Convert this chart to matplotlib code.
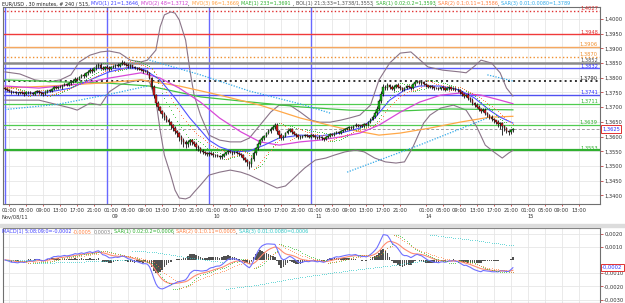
import numpy as np
import pandas as pd
import matplotlib
matplotlib.use('Agg')
import matplotlib.pyplot as plt
from matplotlib.patches import Rectangle
from matplotlib.transforms import blended_transform_factory

# ---------------- data ----------------
# EUR/USD 30 minute closes, Nov 08 00:00 .. Nov 14 21:30 (bars 192-195 = Sunday evening)
closes = [
    1.3762, 1.3758, 1.3755, 1.3750, 1.3752, 1.3749, 1.3747, 1.3751,
    1.3748, 1.3744, 1.3750, 1.3753, 1.3749, 1.3746, 1.3752, 1.3755,
    1.3750, 1.3747, 1.3745, 1.3752, 1.3758, 1.3755, 1.3762, 1.3767,
    1.3765, 1.3770, 1.3768, 1.3774, 1.3778, 1.3775, 1.3781, 1.3786,
    1.3790, 1.3797, 1.3794, 1.3802, 1.3808, 1.3805, 1.3815, 1.3820,
    1.3826, 1.3822, 1.3832, 1.3840, 1.3845, 1.3835, 1.3831, 1.3838,
    1.3834, 1.3830, 1.3836, 1.3839, 1.3843, 1.3840, 1.3846, 1.3852,
    1.3848, 1.3844, 1.3840, 1.3842, 1.3837, 1.3833, 1.3835, 1.3830,
    1.3826, 1.3822, 1.3824, 1.3818, 1.3800, 1.3770, 1.3740, 1.3715,
    1.3700, 1.3688, 1.3676, 1.3668, 1.3658, 1.3648, 1.3638, 1.3630,
    1.3618, 1.3612, 1.3600, 1.3590, 1.3582, 1.3575, 1.3580, 1.3587,
    1.3580, 1.3576, 1.3566, 1.3560, 1.3552, 1.3548, 1.3545, 1.3540,
    1.3545, 1.3542, 1.3536, 1.3538, 1.3534, 1.3530, 1.3535, 1.3540,
    1.3546, 1.3550, 1.3548, 1.3545, 1.3548, 1.3544, 1.3540, 1.3536,
    1.3528, 1.3520, 1.3512, 1.3506, 1.3525, 1.3545, 1.3560, 1.3575,
    1.3588, 1.3596, 1.3603, 1.3612, 1.3618, 1.3625, 1.3632, 1.3640,
    1.3618, 1.3605, 1.3595, 1.3602, 1.3612, 1.3620, 1.3625, 1.3615,
    1.3610, 1.3604, 1.3598, 1.3600, 1.3603, 1.3606, 1.3602, 1.3600,
    1.3605, 1.3602, 1.3598, 1.3596, 1.3600, 1.3594, 1.3592, 1.3598,
    1.3603, 1.3608, 1.3606, 1.3612, 1.3615, 1.3612, 1.3618, 1.3622,
    1.3625, 1.3628, 1.3632, 1.3630, 1.3636, 1.3640, 1.3635, 1.3638,
    1.3636, 1.3642, 1.3640, 1.3650, 1.3658, 1.3668, 1.3680, 1.3695,
    1.3720, 1.3745, 1.3770, 1.3765, 1.3775, 1.3768, 1.3762, 1.3770,
    1.3776, 1.3770, 1.3764, 1.3760, 1.3766, 1.3772, 1.3768, 1.3765,
    1.3778, 1.3785, 1.3788, 1.3782,
    1.3784, 1.3778, 1.3775, 1.3770, 1.3772, 1.3768, 1.3764, 1.3766,
    1.3762, 1.3767, 1.3765, 1.3760, 1.3764, 1.3768, 1.3763, 1.3766,
    1.3760, 1.3758, 1.3750, 1.3745, 1.3738, 1.3742, 1.3730, 1.3725,
    1.3715, 1.3708, 1.3702, 1.3694, 1.3688, 1.3692, 1.3680, 1.3674,
    1.3668, 1.3660, 1.3655, 1.3650, 1.3642, 1.3645, 1.3636, 1.3628,
    1.3620, 1.3616, 1.3622, 1.3625,
]
first_open = 1.3765

# wick lengths in pips above / below the candle body
wick_hi = [
    3, 2, 4, 2, 3, 2, 3, 2, 2, 4, 3, 2, 3, 4, 2, 3, 3, 2, 4, 3, 2, 4, 3, 5,
    4, 3, 5, 2, 4, 3, 6, 4, 5, 4, 6, 3, 5, 7, 4, 5, 6, 8, 5, 7, 4, 6, 5, 3,
    4, 5, 3, 6, 4, 8, 5, 7, 4, 3, 5, 4, 3, 4, 2, 3, 3, 4, 2, 3, 2, 3, 4, 5,
    6, 5, 4, 6, 5, 4, 5, 6, 5, 6, 4, 5, 6, 8, 7, 5, 4, 5, 6, 4, 3, 5, 4, 3,
    4, 3, 5, 4, 3, 4, 5, 4, 3, 4, 5, 3, 4, 3, 4, 5, 4, 3, 5, 4, 6, 7, 5, 6,
    5, 6, 4, 5, 7, 6, 8, 6, 5, 4, 6, 5, 4, 6, 5, 3, 4, 3, 4, 5, 3, 4, 3, 4,
    3, 4, 3, 2, 4, 3, 2, 4, 3, 4, 3, 4, 3, 4, 3, 5, 4, 3, 5, 4, 3, 5, 4, 3,
    4, 3, 5, 4, 5, 6, 7, 8, 9, 10, 8, 7, 6, 5, 6, 5, 4, 5, 4, 5, 4, 3, 4, 3,
    4, 3, 5, 3, 3, 4, 3, 2, 3, 4, 3, 2, 3, 2, 4, 3, 2, 3, 4, 2, 3, 4, 3, 5,
    4, 3, 5, 4, 5, 4, 6, 5, 4, 5, 4, 5, 4, 5, 4, 3, 5, 4, 3, 4, 3, 4, 3, 2,
]
wick_lo = [
    3, 4, 3, 5, 3, 4, 6, 3, 4, 5, 3, 4, 5, 3, 4, 3, 5, 4, 6, 3, 4, 3, 4, 3,
    4, 3, 4, 5, 3, 4, 3, 4, 3, 4, 5, 3, 4, 5, 3, 4, 4, 5, 3, 4, 6, 5, 4, 5,
    4, 6, 5, 4, 5, 4, 3, 4, 5, 4, 6, 5, 4, 3, 5, 4, 4, 5, 3, 4, 5, 8, 10, 12,
    10, 9, 12, 10, 8, 9, 11, 10, 9, 12, 14, 15, 16, 13, 10, 8, 9, 8, 10, 9, 7, 8, 6, 7,
    6, 5, 7, 6, 5, 6, 5, 4, 4, 5, 4, 6, 5, 4, 5, 6, 7, 8, 12, 15, 9, 7, 6, 5,
    5, 4, 6, 5, 4, 5, 4, 6, 8, 9, 7, 6, 5, 4, 5, 6, 5, 4, 6, 5, 4, 5, 4, 5,
    4, 5, 6, 5, 4, 6, 7, 5, 4, 5, 4, 3, 4, 3, 4, 3, 4, 3, 4, 5, 4, 3, 4, 3,
    4, 3, 4, 3, 4, 3, 4, 5, 6, 5, 7, 6, 5, 6, 5, 6, 5, 4, 6, 5, 4, 5, 4, 5,
    4, 5, 3, 4, 5, 4, 5, 6, 4, 5, 4, 3, 4, 3, 5, 4, 3, 4, 5, 4, 5, 6, 5, 7,
    6, 5, 6, 7, 8, 7, 6, 8, 7, 6, 8, 9, 8, 7, 9, 8, 10, 15, 30, 9, 8, 10, 6, 5,
]

# time axis
day_starts = [0, 48, 96, 144, 196, 244]
day_names = ['Nov/08/11', '09', '10', '11', '14', '15']
hour_names = ['01:00', '05:00', '09:00', '13:00', '17:00', '21:00']
hour_offsets = [2, 10, 18, 26, 34, 42]
day_lines = [0, 48, 96, 144]

# indicator curves (bar index, price)
mvo1_x = [0, 12, 21, 31, 40, 49, 59, 66, 73, 80, 87, 92, 96, 101, 108, 115, 122, 129, 139, 148,
          158, 167, 174, 181, 188, 195, 205, 214, 221, 228, 233, 239]
mvo1_y = [1.3752, 1.3748, 1.3752, 1.3765, 1.3793, 1.3820, 1.3837, 1.3826, 1.3793, 1.3731, 1.3663,
          1.3622, 1.3588, 1.3565, 1.3548, 1.3551, 1.3571, 1.3595, 1.3605, 1.3602, 1.3612, 1.3629,
          1.3663, 1.3724, 1.3758, 1.3772, 1.3772, 1.3758, 1.3731, 1.3690, 1.3666, 1.3646]
mvo2_x = [0, 16, 35, 49, 64, 73, 82, 92, 101, 111, 120, 129, 139, 148, 158, 167, 176, 186, 195,
          205, 214, 224, 233, 239]
mvo2_y = [1.3772, 1.3765, 1.3779, 1.3799, 1.3817, 1.3799, 1.3765, 1.3717, 1.3663, 1.3616, 1.3582,
          1.3571, 1.3582, 1.3588, 1.3599, 1.3612, 1.3639, 1.3683, 1.3717, 1.3741, 1.3748, 1.3741,
          1.3724, 1.3712]
mvo3_x = [0, 21, 45, 64, 82, 101, 120, 139, 158, 176, 186, 200, 214, 228, 239]
mvo3_y = [1.3765, 1.3772, 1.3782, 1.3793, 1.3772, 1.3741, 1.3707, 1.3663, 1.3629, 1.3605, 1.3612,
          1.3629, 1.3649, 1.3666, 1.3669]
mae_x = [0, 26, 48, 68, 92, 115, 139, 162, 186, 209, 239]
mae_y = [1.3793, 1.3786, 1.3782, 1.3772, 1.3735, 1.3718, 1.3701, 1.3690, 1.3687, 1.3694, 1.3691]

bb_up_x = [0, 7, 14, 21, 26, 31, 35, 40, 45, 49, 54, 59, 64, 67, 71, 73, 75, 78, 80, 82, 85, 87,
           89, 92, 96, 101, 106, 111, 115, 120, 125, 129, 134, 139, 144, 148, 153, 158, 162, 167,
           172, 176, 181, 186, 191, 199, 206, 214, 217, 221, 224, 229, 233, 236, 239]
bb_up_y = [1.3820, 1.3813, 1.3793, 1.3786, 1.3793, 1.3810, 1.3854, 1.3877, 1.3888, 1.3891, 1.3884,
           1.3860, 1.3854, 1.3860, 1.3894, 1.3973, 1.4014, 1.4024, 1.4020, 1.3997, 1.3928, 1.3826,
           1.3741, 1.3673, 1.3605, 1.3588, 1.3582, 1.3582, 1.3595, 1.3639, 1.3683, 1.3707, 1.3707,
           1.3683, 1.3656, 1.3649, 1.3649, 1.3656, 1.3663, 1.3673, 1.3707, 1.3793, 1.3850, 1.3884,
           1.3888, 1.3837, 1.3826, 1.3820, 1.3817, 1.3840, 1.3860, 1.3850, 1.3817, 1.3765, 1.3738]
bb_lo_x = [0, 16, 31, 34, 40, 45, 49, 54, 59, 64, 68, 71, 73, 75, 78, 80, 82, 85, 87, 89, 92, 96,
           101, 106, 111, 115, 120, 125, 128, 132, 136, 141, 146, 151, 155, 160, 165, 169, 174, 179,
           184, 188, 192, 197, 200, 205, 211, 217, 222, 226, 230, 234, 237, 239]
bb_lo_y = [1.3724, 1.3724, 1.3697, 1.3690, 1.3714, 1.3707, 1.3752, 1.3776, 1.3786, 1.3793, 1.3786,
           1.3724, 1.3622, 1.3537, 1.3469, 1.3418, 1.3391, 1.3388, 1.3394, 1.3411, 1.3435, 1.3469,
           1.3479, 1.3486, 1.3479, 1.3469, 1.3452, 1.3435, 1.3425, 1.3432, 1.3459, 1.3493, 1.3520,
           1.3527, 1.3537, 1.3548, 1.3554, 1.3548, 1.3527, 1.3514, 1.3510, 1.3514, 1.3565, 1.3646,
           1.3673, 1.3697, 1.3707, 1.3690, 1.3633, 1.3571, 1.3548, 1.3527, 1.3544, 1.3553]

# slow SAR(3) legs
sar3_legs_x = [[0, 25, 50, 67], [68, 92, 115, 139, 153], [161, 195, 227], [227, 239]]
sar3_legs_y = [[1.3692, 1.3710, 1.3745, 1.3772], [1.3860, 1.3810, 1.3755, 1.3711, 1.3680],
               [1.3479, 1.3571, 1.3663], [1.3810, 1.3789]]

# horizontal price levels
levels = [1.4027, 1.3948, 1.3906, 1.3870, 1.3852, 1.3832, 1.3790, 1.3741, 1.3711, 1.3639, 1.3553]
level_colors = ['#e03030', '#f03a3a', '#f5a860', '#f09030', '#8a8a8a', '#5a5aff', '#303030',
                '#5050f0', '#50cc50', '#50cc50', '#30b030']
level_styles = [':', '-', '-', ':', '-', '-', ':', '-', '-', '-', '-']
level_widths = [1.0, 1.0, 1.0, 1.0, 1.8, 1.0, 1.4, 1.0, 0.9, 0.9, 1.6]
level_label_colors = ['#e03030', '#e03030', '#f09030', '#f09030', '#505050', '#3030ff', '#202020',
                      '#3030ff', '#30b030', '#30b030', '#30b030']
last_price = 1.3625


def psar(high, low, step, amax):
    n = len(high)
    out = np.zeros(n)
    bull = True
    af = step
    ep = high[0]
    out[0] = low[0]
    for i in range(1, n):
        s = out[i - 1] + af * (ep - out[i - 1])
        if bull:
            s = min(s, low[i - 1], low[max(i - 2, 0)])
            if low[i] < s:
                bull, s, ep, af = False, ep, low[i], step
            elif high[i] > ep:
                ep, af = high[i], min(af + step, amax)
        else:
            s = max(s, high[i - 1], high[max(i - 2, 0)])
            if high[i] > s:
                bull, s, ep, af = True, ep, high[i], step
            elif low[i] < ep:
                ep, af = low[i], min(af + step, amax)
        out[i] = s
    return out


c = np.array(closes)
o = np.concatenate([[first_open], c[:-1]])
hi = np.maximum(o, c) + np.array(wick_hi) * 0.0001
lo = np.minimum(o, c) - np.array(wick_lo) * 0.0001
idx = np.arange(len(c))

s = pd.Series(c)
macd = (s.ewm(span=5, adjust=False).mean() - s.ewm(span=8, adjust=False).mean()).values
sig = pd.Series(macd).ewm(span=9, adjust=False).mean().values
hist = macd - sig

W, H = 625, 303
FS = 3.7
fig = plt.figure(figsize=(W / 100, H / 100), dpi=100)
fig.patch.set_facecolor('white')
ax = fig.add_axes([3 / W, 1 - 204 / H, 597 / W, 197 / H])
ax2 = fig.add_axes([3 / W, 0, 597 / W, 75 / H])

xticks, xlabels = [], []
for d in day_starts:
    for off, name in zip(hour_offsets, hour_names):
        if d + off <= 272:
            xticks.append(d + off)
            xlabels.append(name)

for a in (ax, ax2):
    a.set_xlim(-0.94, 280)
    a.set_facecolor('white')
    a.set_xticks(xticks)
    a.grid(True, color='#e6e6e6', lw=0.6, zorder=0)
    a.set_axisbelow(True)
    for sp in a.spines.values():
        sp.set_color('#707070')
        sp.set_linewidth(0.8)
    a.yaxis.tick_right()
    a.tick_params(axis='y', length=2, width=0.6, color='#c04040', pad=1, labelsize=FS,
                  labelcolor='#303030')

ax.set_xticklabels(xlabels)
ax.tick_params(axis='x', length=1.5, width=0.6, color='#d04040', pad=1.2, labelsize=FS,
               labelcolor='#303030')
ax2.tick_params(axis='x', length=0, labelbottom=False)

# main panel
ax.set_ylim(1.33707, 1.40408)
ax.set_yticks(np.arange(1.3400, 1.40001, 0.005))
ax.yaxis.set_major_formatter(plt.FuncFormatter(lambda v, p: f'{v:.4f}'.replace('.', ',')))

for d in day_lines:
    ax.axvline(d, color='#6868ff', lw=1.0, zorder=1)

for lv, col, ls, lw, lc in zip(levels, level_colors, level_styles, level_widths, level_label_colors):
    ax.axhline(lv, color=col, ls=ls, lw=lw, zorder=1)
    ax.text(279, lv, f'{lv:.4f}'.replace('.', ','), color=lc, fontsize=FS, ha='right', va='bottom',
            zorder=6)
ax.axhline(last_price, color='#a0a0a0', ls=(0, (3, 2)), lw=0.7, zorder=1)

ax.plot(bb_up_x, bb_up_y, color='#8a7488', lw=0.8, zorder=3)
ax.plot(bb_lo_x, bb_lo_y, color='#8a7488', lw=0.8, zorder=3)
ax.plot(mae_x, mae_y, color='#44c444', lw=0.9, zorder=3)
ax.plot(mvo3_x, mvo3_y, color='#ffa848', lw=0.9, zorder=3)
ax.plot(mvo2_x, mvo2_y, color='#d848d8', lw=0.9, zorder=3)
ax.plot(mvo1_x, mvo1_y, color='#5050ff', lw=0.8, zorder=3)
for lx, ly in zip(sar3_legs_x, sar3_legs_y):
    ax.plot(lx, ly, color='#30a8e8', lw=0.9, ls=(0, (1, 1.2)), zorder=3)

sar1 = psar(hi, lo, 0.02, 0.2)
sar2 = psar(hi, lo, 0.1, 0.11)
ax.scatter(idx[1:], sar1[1:], s=0.4, color='#30c030', lw=0, zorder=4)
ax.scatter(idx[1:], sar2[1:], s=0.4, color='#ff7040', lw=0, zorder=4)

# candles
ax.vlines(idx, lo, hi, color='#101010', lw=0.6, zorder=5)
up = c >= o
body_lo = np.minimum(o, c)
body_h = np.maximum(np.abs(c - o), 0.00005)
ax.bar(idx[up], body_h[up], bottom=body_lo[up], width=0.75, color='#10b010', edgecolor='#101010',
       lw=0.3, zorder=5)
ax.bar(idx[~up], body_h[~up], bottom=body_lo[~up], width=0.75, color='#e01818', edgecolor='#101010',
       lw=0.3, zorder=5)

ax.annotate(f'{last_price:.4f}'.replace('.', ','), xy=(1.0, last_price),
            xycoords=('axes fraction', 'data'), xytext=(1.5, 0), textcoords='offset points',
            fontsize=FS, color='#3030ff', va='center', ha='left',
            bbox=dict(boxstyle='square,pad=0.25', fc='white', ec='#e03030', lw=0.7), zorder=8,
            annotation_clip=False)

# date row
tr = blended_transform_factory(ax.transData, fig.transFigure)
for d, name in zip(day_starts, day_names):
    if d == 0:
        fig.text(1 / W, 1 - 217 / H, name, fontsize=FS, color='#303030', va='center', ha='left')
    else:
        ax.text(d + 2, 1 - 217 / H, name, transform=tr, fontsize=FS, color='#303030', va='center',
                ha='left')

# macd panel
ax2.set_ylim(-0.00326, 0.00242)
ax2.set_yticks([-0.003, -0.002, -0.001, 0.001, 0.002])
ax2.yaxis.set_major_formatter(plt.FuncFormatter(lambda v, p: f'{v:.4f}'.replace('.', ',')))
ax2.bar(idx, hist, width=0.8, color='#505050', lw=0, zorder=3)
ax2.plot(idx, sig, color='#ff8a70', lw=0.8, zorder=4)
ax2.plot(idx, macd, color='#7070ff', lw=0.8, zorder=4)
m1 = psar(macd, macd, 0.02, 0.2)
m2 = psar(macd, macd, 0.1, 0.11)
m3 = psar(macd, macd, 0.01, 0.01)
ax2.scatter(idx[1:], m1[1:], s=0.3, color='#30c030', lw=0, zorder=4)
ax2.scatter(idx[1:], m2[1:], s=0.3, color='#ff8040', lw=0, zorder=4)
ax2.scatter(idx[1:], m3[1:], s=0.3, color='#30c8c8', lw=0, zorder=4)
ax2.annotate('-0,0002', xy=(1.0, macd[-1]), xycoords=('axes fraction', 'data'), xytext=(1.5, 0),
             textcoords='offset points', fontsize=FS, color='#3030ff', va='center', ha='left',
             bbox=dict(boxstyle='square,pad=0.25', fc='white', ec='#e03030', lw=0.7),
             annotation_clip=False)

# separator bar between panels
fig.patches.append(Rectangle((0, 1 - 227 / H), 1, 3 / H, transform=fig.transFigure,
                             color='#dcdcdc', zorder=0))


def color_line(x_px, y_px, parts, size):
    renderer = fig.canvas.get_renderer()
    x = x_px
    for txt, col in parts:
        t = fig.text(x / W, 1 - y_px / H, txt, color=col, fontsize=size, va='center', ha='left')
        x += t.get_window_extent(renderer).width


color_line(2, 4, [('EUR/USD , 30 minutes, # 240 / 515, ', '#202020'),
                  ('MVO(1) 21=1,3646', '#4040ff'), (', ', '#202020'),
                  ('MVO(2) 48=1,3712', '#d040d0'), (', ', '#202020'),
                  ('MVO(3) 96=1,3669', '#ffa040'), (', ', '#202020'),
                  ('MAE(1) 233=1,3691', '#30b030'), (' , ', '#202020'),
                  ('BOL(1) 21;3;33=1,3738/1,3553', '#505050'), (', ', '#202020'),
                  ('SAR(1) 0.02;0.2=1,3593', '#30b030'), (', ', '#202020'),
                  ('SAR(2) 0.1;0.11=1,3586', '#ff8040'), (', ', '#202020'),
                  ('SAR(3) 0.01;0.0080=1,3789', '#30a8e8')], 3.55)
color_line(2, 232, [('MACD(1) 5;08;09;0=-0,0002', '#4040ff'), (' ', '#202020'),
                    ('-0,0005', '#ff8040'), (' ', '#202020'), ('0,0003', '#808080'),
                    (', ', '#202020'), ('SAR(1) 0.02;0.2=0,0006', '#30b030'), (', ', '#202020'),
                    ('SAR(2) 0.1;0.11=0,0005', '#ff8040'), (', ', '#202020'),
                    ('SAR(3) 0.01;0.0080=0,0006', '#30c8c8')], 3.55)

fig.savefig('out.png', dpi=100)
